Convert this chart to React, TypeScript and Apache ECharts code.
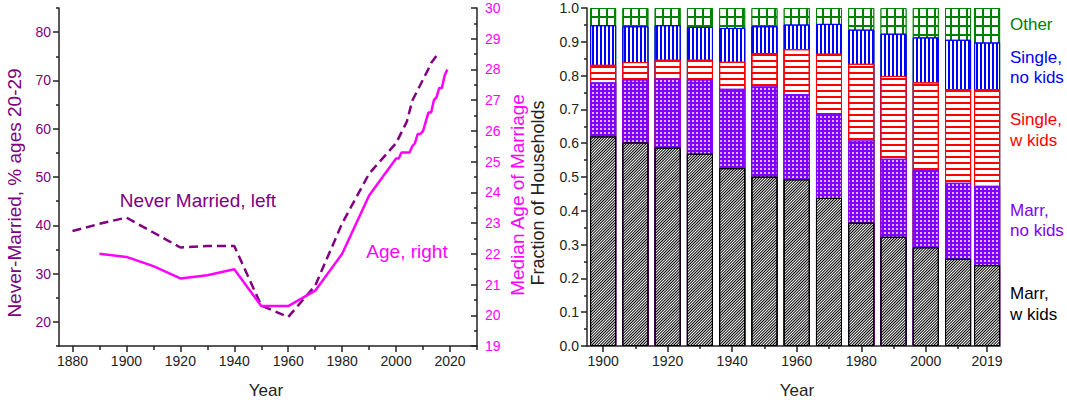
import React, { useEffect, useRef } from "react";
import * as echarts from "echarts";

// ---------- Left chart data ----------
const neverMarriedYears = [1880, 1890, 1900, 1910, 1920, 1930, 1940, 1950, 1960, 1970, 1980, 1990, 2000, 2004, 2006, 2012, 2013, 2016];
const neverMarriedPct = [38.8, 40.3, 41.6, 38.5, 35.4, 35.7, 35.7, 23.4, 21.0, 27.5, 40.4, 50.7, 57.0, 61.5, 65.8, 72.4, 73.6, 75.9];

const ageYears = [1890, 1900, 1910, 1920, 1930, 1940, 1950, 1960, 1970, 1980, 1990, 2000, 2001, 2002, 2003, 2004, 2005, 2006, 2007, 2008, 2009, 2010, 2011, 2012, 2013, 2014, 2015, 2016, 2017, 2018, 2019];
const medianAge = [22.0, 21.9, 21.6, 21.2, 21.3, 21.5, 20.3, 20.3, 20.8, 22.0, 23.9, 25.1, 25.1, 25.3, 25.3, 25.3, 25.3, 25.5, 25.6, 25.9, 25.9, 26.0, 26.3, 26.6, 26.6, 27.0, 27.1, 27.4, 27.4, 27.8, 28.0];

const leftXLabels = [1880, 1900, 1920, 1940, 1960, 1980, 2000, 2020];
const leftXMinorTicks = [1890, 1910, 1930, 1950, 1970, 1990, 2010, 2030];
const leftYLabels = [20, 30, 40, 50, 60, 70, 80];
const leftYMinorTicks = [15, 25, 35, 45, 55, 65, 75, 85];

// ---------- Right chart data (fractions of households) ----------
const barYears = [1900, 1910, 1920, 1930, 1940, 1950, 1960, 1970, 1980, 1990, 2000, 2010, 2019];
const marrKids = [0.620, 0.602, 0.587, 0.569, 0.526, 0.501, 0.493, 0.438, 0.365, 0.323, 0.292, 0.258, 0.239];
const marrNoKids = [0.160, 0.186, 0.204, 0.219, 0.235, 0.267, 0.252, 0.251, 0.243, 0.231, 0.229, 0.225, 0.235];
const singleKids = [0.052, 0.052, 0.056, 0.059, 0.080, 0.099, 0.133, 0.176, 0.227, 0.245, 0.259, 0.277, 0.286];
const singleNoKids = [0.117, 0.106, 0.102, 0.097, 0.100, 0.079, 0.073, 0.088, 0.101, 0.125, 0.133, 0.146, 0.138];
const other = [0.051, 0.054, 0.051, 0.056, 0.059, 0.054, 0.049, 0.047, 0.064, 0.076, 0.087, 0.094, 0.102];

const rightXLabels = [1900, 1920, 1940, 1960, 1980, 2000, 2019];
const rightXMinorTicks = [1910, 1930, 1950, 1970, 1990, 2010];

const FONT = "'Liberation Sans', Arial, sans-serif";
const PURPLE = "#800080";
const MAGENTA = "#ff00ff";
const AXIS = "#222222";

function pairs(xs: number[], ys: number[]) {
  return xs.map((x, i) => [x, ys[i]]);
}

// cumulative sum of several segment arrays (stack built by hand)
function cumulative(...arrs: number[][]) {
  return arrs[0].map((_, i) => arrs.reduce((s, a) => s + a[i], 0));
}

function buildOption() {
  const axisLine = { show: true, onZero: false, lineStyle: { color: AXIS, width: 1.5 } };
  const tickStyle = { color: AXIS, width: 1.5 };
  const hidden = { axisLine: { show: false }, axisLabel: { show: false }, splitLine: { show: false } };
  const plain = (v: number) => String(v);

  const barSeries = (name: string, tops: number[], fill: string, border: string, decal: any) => ({
    name,
    type: "bar",
    xAxisIndex: 1,
    yAxisIndex: 2,
    barWidth: 26,
    barGap: "-100%",
    data: pairs(barYears, tops),
    itemStyle: { color: fill, borderColor: border, borderWidth: 1, decal },
  });

  const text = (t: string, x: number, y: number, color: string, size: number, rotate = false, align = "center") => ({
    type: "text",
    x,
    y,
    rotation: rotate ? Math.PI / 2 : 0,
    style: {
      text: t,
      fill: color,
      font: `${size}px ${FONT}`,
      textAlign: align,
      textVerticalAlign: "middle",
    },
  });

  const topOther = cumulative(marrKids, marrNoKids, singleKids, singleNoKids, other);
  const topSingleNo = cumulative(marrKids, marrNoKids, singleKids, singleNoKids);
  const topSingleKids = cumulative(marrKids, marrNoKids, singleKids);
  const topMarrNo = cumulative(marrKids, marrNoKids);
  const topMarrKids = cumulative(marrKids);

  return {
    animation: false,
    backgroundColor: "#ffffff",
    textStyle: { fontFamily: FONT },
    grid: [
      { left: 59, top: 8, width: 418, height: 338 },
      { left: 587, top: 8, width: 413, height: 338 },
    ],
    xAxis: [
      {
        gridIndex: 0,
        type: "value",
        position: "bottom",
        min: 1875,
        max: 2030,
        axisLine,
        axisTick: { customValues: leftXLabels, length: 6, lineStyle: tickStyle },
        axisLabel: { customValues: leftXLabels, fontSize: 14, color: AXIS, margin: 8, fontFamily: FONT, formatter: plain },
        splitLine: { show: false },
      },
      {
        gridIndex: 1,
        type: "value",
        position: "bottom",
        min: 1895,
        max: 2023,
        axisLine,
        axisTick: { customValues: rightXLabels, length: 6, lineStyle: tickStyle },
        axisLabel: { customValues: rightXLabels, fontSize: 14, color: AXIS, margin: 8, fontFamily: FONT, formatter: plain },
        splitLine: { show: false },
      },
      {
        gridIndex: 1,
        type: "value",
        position: "bottom",
        min: 1895,
        max: 2023,
        ...hidden,
        axisTick: { customValues: rightXMinorTicks, length: 3, lineStyle: tickStyle },
      },
      {
        gridIndex: 0,
        type: "value",
        position: "bottom",
        min: 1875,
        max: 2030,
        ...hidden,
        axisTick: { customValues: leftXMinorTicks, length: 4, lineStyle: tickStyle },
      },
    ],
    yAxis: [
      {
        gridIndex: 0,
        type: "value",
        position: "left",
        min: 15,
        max: 85,
        axisLine,
        axisTick: { customValues: leftYLabels, length: 6, lineStyle: tickStyle },
        axisLabel: { customValues: leftYLabels, fontSize: 14, color: PURPLE, margin: 8, fontFamily: FONT },
        splitLine: { show: false },
      },
      {
        gridIndex: 0,
        type: "value",
        position: "right",
        min: 19,
        max: 30,
        interval: 1,
        axisLine,
        axisTick: { inside: true, length: 6, lineStyle: tickStyle },
        minorTick: { show: true, splitNumber: 2, length: 3, lineStyle: tickStyle },
        axisLabel: { fontSize: 14, color: MAGENTA, margin: 8, fontFamily: FONT },
        splitLine: { show: false },
      },
      {
        gridIndex: 1,
        type: "value",
        position: "left",
        min: 0,
        max: 1,
        interval: 0.1,
        axisLine,
        axisTick: { length: 6, lineStyle: tickStyle },
        minorTick: { show: true, splitNumber: 2, length: 3, lineStyle: tickStyle },
        axisLabel: { fontSize: 14, color: AXIS, margin: 8, fontFamily: FONT, formatter: (v: number) => v.toFixed(1) },
        splitLine: { show: false },
      },
      {
        gridIndex: 0,
        type: "value",
        position: "left",
        min: 15,
        max: 85,
        ...hidden,
        axisTick: { customValues: leftYMinorTicks, length: 3, lineStyle: tickStyle },
      },
    ],
    series: [
      {
        name: "Never Married",
        type: "line",
        xAxisIndex: 0,
        yAxisIndex: 0,
        data: pairs(neverMarriedYears, neverMarriedPct),
        symbol: "none",
        lineStyle: { color: PURPLE, width: 2.5, type: [9, 5] },
      },
      {
        name: "Median Age",
        type: "line",
        xAxisIndex: 0,
        yAxisIndex: 1,
        data: pairs(ageYears, medianAge),
        symbol: "none",
        lineStyle: { color: MAGENTA, width: 2.5 },
      },
      barSeries("Other", topOther, "#008000", "#008000", {
        symbol: "rect", symbolSize: 1, color: "#ffffff",
        dashArrayX: [6, 1.3], dashArrayY: [6.3, 1.3],
      }),
      barSeries("Single, no kids", topSingleNo, "#ffffff", "#0000ff", {
        symbol: "rect", symbolSize: 1, color: "#0000ff",
        dashArrayX: [1.4, 1.9], dashArrayY: [1, 0],
      }),
      barSeries("Single, w kids", topSingleKids, "#ffffff", "#ff0000", {
        symbol: "rect", symbolSize: 1, color: "#ff0000",
        dashArrayX: [1, 0], dashArrayY: [1.5, 3.5],
      }),
      barSeries("Marr, no kids", topMarrNo, "#8000ff", "#8000ff", {
        symbol: "rect", symbolSize: 1, color: "rgba(255,255,255,0.7)",
        dashArrayX: [1.5, 1.5], dashArrayY: [1.5, 1.5],
      }),
      barSeries("Marr, w kids", topMarrKids, "#ffffff", "#000000", {
        symbol: "rect", symbolSize: 1, color: "#000000",
        dashArrayX: [1, 0], dashArrayY: [1, 1], rotation: -Math.PI / 4,
      }),
    ],
    graphic: [
      text("Never Married, left", 198, 200, PURPLE, 19),
      text("Age, right", 407, 251, MAGENTA, 19),
      text("Never-Married, % ages 20-29", 14, 193, PURPLE, 19, true),
      text("Median Age of Marriage", 517, 195, MAGENTA, 19, true),
      text("Year", 266, 390, AXIS, 17),
      text("Fraction of Households", 538, 193, AXIS, 18, true),
      text("Year", 797, 390, AXIS, 17),
      text("Other", 1010, 24, "#008000", 17, false, "left"),
      text("Single,", 1010, 57, "#0000ff", 17, false, "left"),
      text("no kids", 1010, 77, "#0000ff", 17, false, "left"),
      text("Single,", 1010, 119, "#ff0000", 17, false, "left"),
      text("w kids", 1010, 140, "#ff0000", 17, false, "left"),
      text("Marr,", 1010, 210, "#8000ff", 17, false, "left"),
      text("no kids", 1010, 230, "#8000ff", 17, false, "left"),
      text("Marr,", 1010, 293, "#000000", 17, false, "left"),
      text("w kids", 1010, 314, "#000000", 17, false, "left"),
    ],
  };
}

export default function App() {
  const ref = useRef<HTMLDivElement>(null);
  useEffect(() => {
    if (!ref.current) return;
    const chart = echarts.init(ref.current, null, { renderer: "svg" });
    chart.setOption(buildOption() as any);
    return () => chart.dispose();
  }, []);
  return (
    <div
      ref={ref}
      style={{ position: "absolute", left: 0, top: 0, width: 1067, height: 402, background: "#ffffff" }}
    />
  );
}
